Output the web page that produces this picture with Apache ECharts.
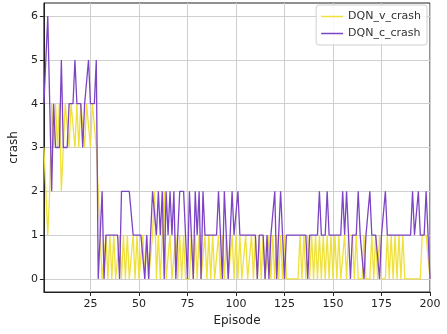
<!DOCTYPE html>
<html>
<head>
<meta charset="utf-8">
<script src="https://cdn.jsdelivr.net/npm/echarts@6/dist/echarts.min.js"></script>
<style>
  html, body { margin: 0; padding: 0; background: #fff; }
  #chart { width: 447px; height: 334px; }
</style>
</head>
<body>
<div id="chart"></div>
<script>
  // episodes 1..200
  var episodes = [];
  for (var i = 1; i <= 200; i++) episodes.push(i);

  // DQN_v_crash (yellow)
  var vCrash = [
    3,2,1,2,4,3,4,3,4,2,
    3,4,4,3,4,4,3,4,3,4,
    4,3,4,4,3,4,4,3,2,1,
    0,0,1,0,1,0,1,0,0,1,
    0,1,0,1,0,0,1,0,1,0,
    0,1,0,1,0,0,1,2,0,1,
    0,1,2,0,0,1,0,0,1,0,
    1,0,1,0,0,0,1,0,1,0,
    1,0,0,1,0,1,0,1,0,0,
    1,0,1,0,1,0,0,1,0,1,
    0,1,0,0,1,0,0,1,0,1,
    0,1,0,1,0,0,1,0,1,0,
    1,0,1,0,1,0,0,0,0,0,
    0,0,1,0,1,0,1,0,1,0,
    1,0,1,0,1,0,1,0,1,0,
    1,0,1,0,0,1,0,1,1,1,
    0,1,0,0,0,1,0,0,0,1,
    0,1,0,1,0,0,0,1,0,1,
    0,1,0,1,0,1,0,0,0,0,
    0,0,0,0,0,1,1,1,1,0
  ];

  // DQN_c_crash (purple)
  var cCrash = [
    4,5,6,4,2,4,3,3,3,5,
    3,3,3,4,4,4,5,4,4,4,
    3,4,4,5,4,4,4,5,0,0,
    2,0,1,1,1,1,1,1,1,0,
    2,2,2,2,2,2,1,1,1,1,
    1,1,0,1,0,1,2,2,1,2,
    1,2,0,2,1,2,1,2,0,1,
    2,2,2,1,0,2,1,0,2,1,
    2,0,2,1,1,1,1,1,1,1,
    2,1,0,2,1,0,1,2,1,1,
    2,1,1,1,1,1,1,1,1,1,
    0,1,1,1,0,1,0,1,1,2,
    0,1,2,1,0,1,1,1,1,1,
    1,1,1,1,1,1,0,1,1,1,
    1,1,2,1,1,1,2,1,1,1,
    1,1,1,1,2,1,2,1,0,1,
    1,1,2,1,1,0,1,1,2,1,
    1,1,1,0,1,1,2,1,1,1,
    1,1,1,1,1,1,1,1,1,1,
    2,1,1,2,1,1,1,2,1,0
  ];

  var xTicks = [25, 50, 75, 100, 125, 150, 175, 200];
  var yTicks = [0, 1, 2, 3, 4, 5, 6];

  function pairs(vals) {
    return episodes.map(function (ep, i) { return [ep, vals[i]]; });
  }

  var chart = echarts.init(document.getElementById('chart'), null, { renderer: 'canvas' });

  var gridLine = { show: true, lineStyle: { color: '#cfcfcf', width: 1 } };
  var font = 'DejaVu Sans';

  var option = {
    animation: false,
    backgroundColor: '#fff',
    grid: { left: 42, right: 17, top: 3, bottom: 42, show: true, borderColor: '#222', borderWidth: 1 },
    legend: {
      orient: 'vertical',
      right: 20, top: 5,
      backgroundColor: 'rgba(255,255,255,0.85)',
      borderColor: '#d0d0d0', borderWidth: 1, borderRadius: 3,
      padding: [6, 6, 6, 5],
      itemGap: 6, itemWidth: 22, itemHeight: 1.5,
      icon: 'rect',
      textStyle: { fontFamily: font, fontSize: 11, color: '#333' },
      data: ['DQN_v_crash', 'DQN_c_crash']
    },
    xAxis: {
      type: 'value', min: 1, max: 200,
      name: 'Episode', nameLocation: 'middle', nameGap: 23,
      nameTextStyle: { fontFamily: font, fontSize: 12, color: '#222' },
      axisLine: { show: true, onZero: false, lineStyle: { color: '#222' } },
      axisTick: { show: true, length: 4, customValues: xTicks, lineStyle: { color: '#222' } },
      axisLabel: { customValues: xTicks, fontFamily: font, fontSize: 11, color: '#222', margin: 7 },
      splitLine: gridLine
    },
    yAxis: {
      type: 'value', min: -0.3, max: 6.3,
      name: 'crash', nameLocation: 'middle', nameGap: 22, nameRotate: 90,
      nameTextStyle: { fontFamily: font, fontSize: 12, color: '#222' },
      axisLine: { show: true, onZero: false, lineStyle: { color: '#222' } },
      axisTick: { show: true, length: 4, customValues: yTicks, lineStyle: { color: '#222' } },
      axisLabel: { customValues: yTicks, fontFamily: font, fontSize: 11, color: '#222', margin: 6 },
      splitLine: gridLine
    },
    series: [
      {
        name: 'DQN_v_crash', type: 'line', data: pairs(vCrash),
        symbol: 'none', lineStyle: { color: '#efe03a', width: 1.3 }, itemStyle: { color: '#efe03a' }
      },
      {
        name: 'DQN_c_crash', type: 'line', data: pairs(cCrash),
        symbol: 'none', lineStyle: { color: '#7d44c4', width: 1.3 }, itemStyle: { color: '#7d44c4' }
      }
    ]
  };

  chart.setOption(option);
</script>
</body>
</html>
